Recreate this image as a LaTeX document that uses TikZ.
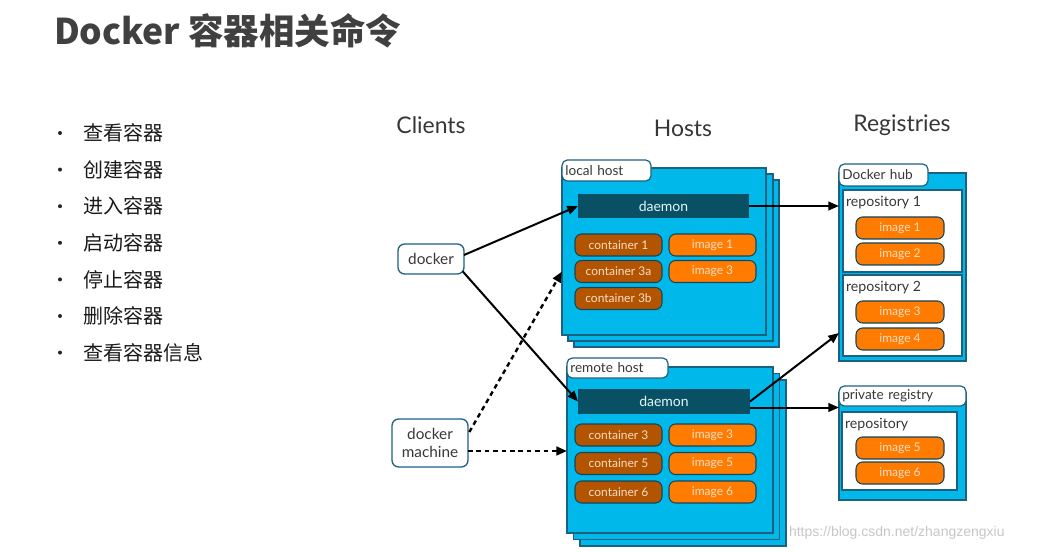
\documentclass[tikz,border=0pt]{standalone}
\usepackage{fontspec}
\usetikzlibrary{arrows.meta,fit}
\setmainfont{Lato}
\newfontfamily\cjk{Noto Sans CJK SC}
\newfontfamily\wmfont{Liberation Sans}
\definecolor{hostblue}{RGB}{0,185,234}
\definecolor{edge}{RGB}{28,98,128}
\definecolor{daemonc}{RGB}{10,80,100}
\definecolor{contc}{RGB}{178,84,0}
\definecolor{imgc}{RGB}{255,124,0}
\definecolor{pilltxt}{RGB}{250,222,200}
\definecolor{txt}{RGB}{55,55,55}
\definecolor{titlec}{RGB}{64,64,64}
\begin{document}
\begin{tikzpicture}[x=0.75pt,y=-0.75pt,
  every node/.style={inner sep=0pt,outer sep=0pt},
  layer/.style={draw=edge,fill=hostblue,line width=0.9pt},
  bluebox/.style={draw=edge,fill=hostblue,line width=0.9pt,inner sep=0pt},
  repo/.style={draw=edge,fill=white,line width=0.8pt,inner sep=0pt},
  tab/.style={draw=edge,fill=white,line width=0.9pt,rounded corners=4pt,anchor=north west,
    inner xsep=2.5pt,align=left,font=\fontsize{10.2}{11}\selectfont,text=txt},
  daemon/.style={fill=daemonc,inner sep=0pt,font=\fontsize{10.5}{12}\selectfont,text=white!88!hostblue},
  pill/.style={draw=edge!70!black,line width=0.8pt,rounded corners=5pt,minimum width=65.25pt,
    minimum height=16.5pt,font=\fontsize{9}{10}\selectfont,text=pilltxt},
  cont/.style={pill,fill=contc},
  img/.style={pill,fill=imgc},
  client/.style={draw=edge,fill=white,line width=1pt,rounded corners=5pt,align=center,
    font=\fontsize{11.5}{14}\selectfont,text=txt},
  head/.style={font=\fontsize{17.2}{20}\selectfont,text=txt},
  repolab/.style={anchor=west,font=\fontsize{10.6}{12}\selectfont,text=txt},
  arr/.style={line width=1.5pt,-{Triangle[length=8pt,width=6.5pt]}},
  darr/.style={arr,line width=1.8pt,dash pattern=on 3.5pt off 2.8pt},
  item/.style={anchor=west,font=\cjk\fontsize{15}{18}\selectfont,text=black!90},
  dot/.style={circle,fill=black!85,minimum size=3pt}
]
\useasboundingbox[fill=white] (0,0) rectangle (1042,552);

% title
\node[anchor=west,font=\cjk\bfseries\fontsize{26.6}{30}\selectfont,text=titlec] (title) at (54,31) {Docker 容器相关命令};

% list
\foreach \t [count=\i] in {查看容器,创建容器,进入容器,启动容器,停止容器,删除容器,查看容器信息}{
  \pgfmathsetmacro\yy{133+36.6*(\i-1)}
  \node[dot] (b\i) at (60,\yy) {};
  \node[item] (l\i) at (83,\yy) {\t};
}

% headings
\node[head] (hc) at (431,125) {Clients};
\node[head] (hh) at (683,128) {Hosts};
\node[head] (hr) at (902,125) {Registries};

% local host stack
\draw[layer] (574,180) rectangle (779,347);
\draw[layer] (568,174) rectangle (773,341);
\node[bluebox,fit={(562,168)(766,335)}] (lh) {};
\node[tab,text width=61.75pt,minimum height=15.75pt] (lht) at (562,160) {local host};
\node[daemon,fit={(578,194)(749,218)}] (ld) {};
\node[daemon] at (ld.center) {daemon};
\node[cont] (c1) at (618.5,245) {container 1};
\node[cont] (c3a) at (618.5,271.5) {container 3a};
\node[cont] (c3b) at (618.5,298.5) {container 3b};
\node[img] (i1) at (712.5,245) {image 1};
\node[img] (i3) at (712.5,271.5) {image 3};

% remote host stack
\draw[layer] (580,380) rectangle (786,546);
\draw[layer] (573.5,373.5) rectangle (779.5,539.5);
\node[bluebox,fit={(567,367)(773,533)}] (rh) {};
\node[tab,text width=70.75pt,minimum height=15pt] (rht) at (567,358) {remote host};
\node[daemon,fit={(578,389)(750,414)}] (rd) {};
\node[daemon] at (rd.center) {daemon};
\node[cont] (c3) at (618.5,435) {container 3};
\node[cont] (c5) at (618.5,463.5) {container 5};
\node[cont] (c6) at (618.5,492) {container 6};
\node[img] (ri3) at (712.5,435) {image 3};
\node[img] (ri5) at (712.5,463.5) {image 5};
\node[img] (ri6) at (712.5,492) {image 6};

% Docker hub
\node[bluebox,fit={(839,173)(966,361)}] (hub) {};
\node[tab,text width=61.75pt,minimum height=16.5pt] (hubt) at (839,164) {Docker hub};
\node[repo,fit={(843,190)(962,272)}] (r1) {};
\node[repolab] (r1l) at (846,203) {repository 1};
\node[img,minimum width=66pt] (h1) at (900,228) {image 1};
\node[img,minimum width=66pt] (h2) at (900,254) {image 2};
\node[repo,fit={(843,275)(962,356)}] (r2) {};
\node[repolab] (r2l) at (846,288) {repository 2};
\node[img,minimum width=66pt] (h3) at (900,312) {image 3};
\node[img,minimum width=66pt] (h4) at (900,339) {image 4};

% private registry
\node[bluebox,fit={(839,393)(966,500)}] (pr) {};
\node[tab,text width=90.25pt,minimum height=15pt] (prt) at (839,386) {private registry};
\node[repo,fit={(842,412)(957,490)}] (r3) {};
\node[repolab] (r3l) at (845,425) {repository};
\node[img,minimum width=66pt] (h5) at (900,448) {image 5};
\node[img,minimum width=66pt] (h6) at (900,473) {image 6};

% clients
\node[client,minimum width=49.5pt,minimum height=22.5pt] (docker) at (431,259) {docker};
\node[client,minimum width=57pt,minimum height=36pt] (machine) at (430,443) {docker\\machine};

% connectors
\draw[arr] ([yshift=3pt]docker.east) -- (ld.west);
\draw[arr] ([yshift=2pt,xshift=-1pt]docker.south east) -- (rd.west);
\draw[darr] ([yshift=-9.75pt,xshift=1pt]machine.north east) -- ([yshift=-15pt]lh.west);
\draw[darr] ([yshift=-6pt]machine.east) -- ([yshift=-6pt]machine.east -| rh.west);
\draw[arr] (ld.east) -- (ld.east -| hub.west);
\draw[arr] (rd.east) -- ([yshift=21pt]hub.south west);
\coordinate (r7) at ([yshift=-4.5pt]rd.east);
\draw[arr] (r7) -- (r7 -| pr.west);

% watermark
\node[anchor=west,font=\wmfont\fontsize{10.5}{12}\selectfont,text=black!22] (wm) at (789,533) {https://blog.csdn.net/zhangzengxiu};
\end{tikzpicture}
\end{document}
